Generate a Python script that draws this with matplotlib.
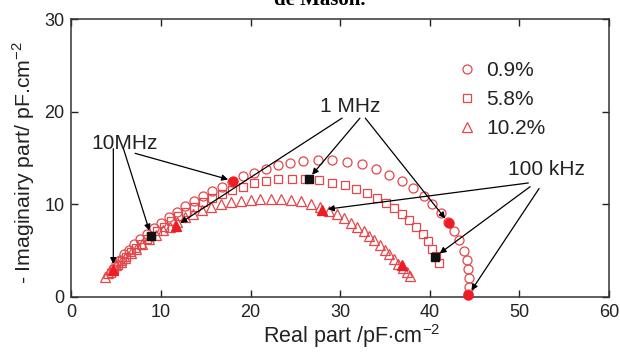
import matplotlib
matplotlib.use('Agg')
import matplotlib.pyplot as plt
from matplotlib.lines import Line2D

plt.rcParams['font.family'] = ['Liberation Sans', 'DejaVu Sans']
plt.rcParams['mathtext.fontset'] = 'custom'
plt.rcParams['mathtext.rm'] = 'Liberation Sans'

# Cole-Cole data (real, imaginary) in pF/cm2
x_09 = [4.6, 5.0, 5.4, 5.9, 6.4, 7.0, 7.7, 8.4, 9.2, 10.0, 10.9, 11.8, 12.7, 13.7,
        14.7, 15.7, 16.8, 17.9, 19.1, 20.4, 21.7, 23.0, 24.4, 25.9, 27.5, 29.1,
        30.8, 32.4, 34.0, 35.5, 36.9, 38.1, 39.3, 40.3, 41.2, 42.0, 42.7, 43.3,
        43.8, 44.1, 44.3, 44.4, 44.4, 44.3]
y_09 = [3.0, 3.5, 4.0, 4.6, 5.1, 5.7, 6.2, 6.8, 7.4, 8.0, 8.6, 9.2, 9.8, 10.4,
        10.9, 11.4, 11.9, 12.4, 13.0, 13.4, 13.8, 14.2, 14.5, 14.7, 14.8, 14.75,
        14.6, 14.3, 13.8, 13.2, 12.5, 11.8, 10.9, 10.0, 9.1, 8.1, 7.1, 6.1,
        5.0, 4.0, 3.0, 2.0, 1.1, 0.3]

x_58 = [4.4, 4.8, 5.2, 5.6, 6.1, 6.6, 7.2, 7.8, 8.4, 8.9, 9.6, 10.3, 11.1, 11.9,
        12.8, 13.7, 14.7, 15.7, 16.8, 17.9, 19.1, 20.4, 21.7, 23.1, 24.6, 26.1,
        27.6, 29.1, 30.5, 31.8, 33.0, 34.1, 35.1, 36.0, 36.9, 37.7, 38.5, 39.2,
        39.8, 40.3, 40.7, 41.0]
y_58 = [2.6, 3.0, 3.4, 3.9, 4.3, 4.8, 5.3, 5.7, 6.2, 6.6, 7.1, 7.6, 8.2, 8.7,
        9.2, 9.7, 10.2, 10.7, 11.1, 11.5, 11.9, 12.3, 12.55, 12.7, 12.78, 12.75,
        12.6, 12.35, 12.05, 11.65, 11.2, 10.7, 10.15, 9.6, 9.0, 8.3, 7.6, 6.8,
        6.0, 5.2, 4.4, 3.7]

x_102 = [3.7, 4.1, 4.6, 5.0, 5.5, 6.0, 6.6, 7.2, 7.9, 8.6, 9.4, 10.2, 11.0, 11.8,
         12.7, 13.6, 14.6, 15.6, 16.7, 17.8, 18.9, 20.0, 21.1, 22.3, 23.4, 24.5,
         25.6, 26.7, 27.7, 28.7, 29.6, 30.4, 31.2, 31.9, 32.6, 33.2, 33.8, 34.4,
         35.0, 35.5, 36.0, 36.5, 37.0, 37.4, 37.8]
y_102 = [2.2, 2.6, 3.0, 3.4, 3.8, 4.2, 4.7, 5.2, 5.7, 6.2, 6.7, 7.2, 7.6, 8.1,
         8.6, 9.0, 9.4, 9.7, 10.0, 10.2, 10.4, 10.5, 10.6, 10.6, 10.6, 10.5,
         10.3, 10.0, 9.7, 9.3, 8.9, 8.5, 8.0, 7.6, 7.1, 6.6, 6.1, 5.6,
         5.1, 4.6, 4.1, 3.6, 3.1, 2.7, 2.3]

# highlighted frequencies: 10 MHz, 1 MHz, 100 kHz
fx_09 = [18.08, 42.1, 44.3]
fy_09 = [12.52, 8.0, 0.2]
fx_58 = [8.88, 26.46, 40.6]
fy_58 = [6.58, 12.73, 4.34]
fx_102 = [4.67, 11.64, 28.0, 36.9]
fy_102 = [2.95, 7.66, 9.4, 3.44]

labels = ['0.9%', '5.8%', '10.2%']
freq_labels = ['10MHz', '1 MHz', '100 kHz']

red = '#e4474b'
fill_red = '#ee1c25'

fig = plt.figure(figsize=(6.2, 3.54), dpi=100)
ax = fig.add_axes([0.1153, 0.1613, 0.8669, 0.7850])

ax.plot(x_102, y_102, '^', ms=7, mfc='none', mec=red, mew=0.9, clip_on=False)
ax.plot(x_58, y_58, 's', ms=5.8, mfc='none', mec=red, mew=0.9, clip_on=False)
ax.plot(x_09, y_09, 'o', ms=6.5, mfc='none', mec=red, mew=0.9, clip_on=False)

ax.plot(fx_09, fy_09, 'o', ms=6.5, color=fill_red, clip_on=False, zorder=4)
ax.plot(fx_58, fy_58, 's', ms=5.8, color='#111111', clip_on=False, zorder=4)
ax.plot(fx_102, fy_102, '^', ms=7, color=fill_red, clip_on=False, zorder=4)

# annotation labels and arrows (text position, arrow starts, targets)
text_pos = [(5.9, 16.6), (31.1, 20.6), (53.0, 13.7)]
starts = [[(4.67, 16.0), (5.8, 16.0), (7.1, 15.5)],
          [(30.2, 19.3), (32.2, 19.3), (32.8, 19.3)],
          [(51.0, 12.3), (51.2, 11.9), (52.2, 11.7)]]
targets = [[(fx_102[0], fy_102[0]), (fx_58[0], fy_58[0]), (fx_09[0], fy_09[0])],
           [(fx_102[1], fy_102[1]), (fx_58[1], fy_58[1]), (fx_09[1], fy_09[1])],
           [(fx_102[2], fy_102[2]), (fx_58[2], fy_58[2]), (fx_09[2], fy_09[2])]]

for lab, tp, st, tg in zip(freq_labels, text_pos, starts, targets):
    ax.text(tp[0], tp[1], lab, fontsize=15, color='#222222', ha='center', va='center')
    for s, t in zip(st, tg):
        ax.annotate('', xy=t, xytext=s,
                    arrowprops=dict(arrowstyle='-|>', color='k', lw=0.9,
                                    mutation_scale=9, shrinkA=0, shrinkB=4))

handles = [Line2D([], [], ls='none', marker='o', ms=6.5, mfc='none', mec=red, mew=0.9),
           Line2D([], [], ls='none', marker='s', ms=5.8, mfc='none', mec=red, mew=0.9),
           Line2D([], [], ls='none', marker='^', ms=7, mfc='none', mec=red, mew=0.9)]
leg = ax.legend(handles, labels, loc='upper left', bbox_to_anchor=(0.69, 0.90),
                frameon=False, fontsize=15, handlelength=1.0, handletextpad=0.4,
                labelspacing=0.47, borderpad=0.2)
for t in leg.get_texts():
    t.set_color('#222222')

ax.set_xlim(0, 60)
ax.set_ylim(0, 30)
ax.set_xticks([0, 10, 20, 30, 40, 50, 60])
ax.set_yticks([0, 10, 20, 30])
ax.tick_params(direction='in', length=5, width=1, top=True, right=True,
               labelsize=13, colors='#222222', pad=5)
for sp in ax.spines.values():
    sp.set_linewidth(1.1)
    sp.set_color('#333333')

ax.set_xlabel('Real part /pF$\\cdot$cm$^{-2}$', fontsize=15.5, color='#222222')
ax.set_ylabel('- Imaginairy part/ pF.cm$^{-2}$', fontsize=15.3, color='#222222')
ax.xaxis.set_label_coords(0.521, -0.09)
ax.yaxis.set_label_coords(-0.064, 0.484)

fig.text(0.515, 0.985, 'de Mason.', fontsize=15, fontweight='bold',
         family='Liberation Serif', ha='center', va='baseline')

fig.savefig('out.png', dpi=100)
